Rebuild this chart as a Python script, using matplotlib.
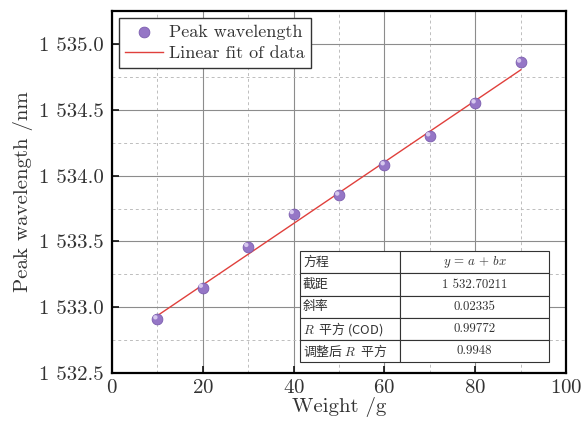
import matplotlib
matplotlib.use('Agg')
import matplotlib.pyplot as plt
import matplotlib.transforms as mtransforms
from matplotlib.ticker import MultipleLocator, FuncFormatter
import numpy as np

weight = [10, 20, 30, 40, 50, 60, 70, 80, 90]
peak = [1532.91, 1533.15, 1533.46, 1533.71, 1533.85, 1534.08, 1534.30, 1534.55, 1534.86]
fit_a = 1532.70211
fit_b = 0.02335
table_rows = [
    ['方程', '$y\\,=\\,a\\,+\\,bx$'],
    ['截距', '1 532.70211'],
    ['斜率', '0.02335'],
    ['$R$  平方 (COD)', '0.99772'],
    ['调整后 $R$  平方', '0.9948'],
]

plt.rcParams['font.family'] = ['cmr10', 'Noto Sans CJK SC']
plt.rcParams['mathtext.fontset'] = 'cm'
plt.rcParams['axes.formatter.use_mathtext'] = True

fig = plt.figure(figsize=(5.82, 4.24), dpi=100)
ax = fig.add_axes([0.192, 0.120, 0.781, 0.854])

ax.scatter(weight, peak, s=60, color='#9576c6', edgecolor='#7a5cae', linewidth=0.6,
           label='Peak wavelength', zorder=4)
# small highlight on each sphere
ax.scatter(weight, peak, s=10, color='#d6c8ee', edgecolor='none', zorder=5,
           transform=ax.transData + mtransforms.ScaledTranslation(-1.3/72, 1.3/72, fig.dpi_scale_trans))
xs = np.array([weight[0], weight[-1]])
ax.plot(xs, fit_a + fit_b * xs, color='#e0403c', lw=1.0, label='Linear fit of data', zorder=3)

ax.set_xlim(0, 100)
ax.set_ylim(1532.5, 1535.25)
ax.xaxis.set_major_locator(MultipleLocator(20))
ax.xaxis.set_minor_locator(MultipleLocator(10))
ax.yaxis.set_major_locator(MultipleLocator(0.5))
ax.yaxis.set_minor_locator(MultipleLocator(0.25))
ax.yaxis.set_major_formatter(FuncFormatter(lambda v, p: '1 %.1f' % (v - 1000)))
ax.grid(True, which='major', color='#8c8c8c', lw=0.8, ls='-')
ax.grid(True, which='minor', color='#bdbdbd', lw=0.7, ls=(0, (3, 3)))
ax.set_axisbelow(True)
ax.tick_params(which='major', direction='in', length=5, width=1.2, labelsize=15,
               colors='#111', labelcolor='#333')
ax.tick_params(axis='y', pad=6)
ax.tick_params(axis='x', pad=4)
ax.tick_params(which='minor', length=0)
for s in ax.spines.values():
    s.set_linewidth(1.6)
ax.set_xlabel('Weight /g', fontsize=15, color='#333', labelpad=0)
ax.set_ylabel('Peak wavelength /nm', fontsize=15, color='#333', labelpad=4)

leg = ax.legend(loc='upper left', fontsize=13, frameon=True, fancybox=False,
                borderpad=0.35, handlelength=2.1, handletextpad=0.3, labelspacing=0.3,
                borderaxespad=0.4)
leg.get_frame().set_edgecolor('#333')
leg.get_frame().set_linewidth(1.0)
leg.get_frame().set_alpha(1)
for t in leg.get_texts():
    t.set_color('#333')

tbl = ax.table(cellText=table_rows, colWidths=[0.4, 0.6], cellLoc='center',
               bbox=[0.414, 0.030, 0.549, 0.307], zorder=6)
tbl.auto_set_font_size(False)
for (r, c), cell in tbl.get_celld().items():
    cell.set_linewidth(0.8)
    cell.set_edgecolor('#333')
    cell.set_facecolor('white')
    txt = cell.get_text()
    txt.set_fontsize(9.3)
    txt.set_color('#333')
    if c == 0:
        cell._loc = 'left'
        cell.PAD = 0.03
        txt.set_ha('left')
        if '$' in table_rows[r][0]:
            txt.set_fontfamily('Noto Sans CJK SC')

fig.savefig('out.png', dpi=100)
